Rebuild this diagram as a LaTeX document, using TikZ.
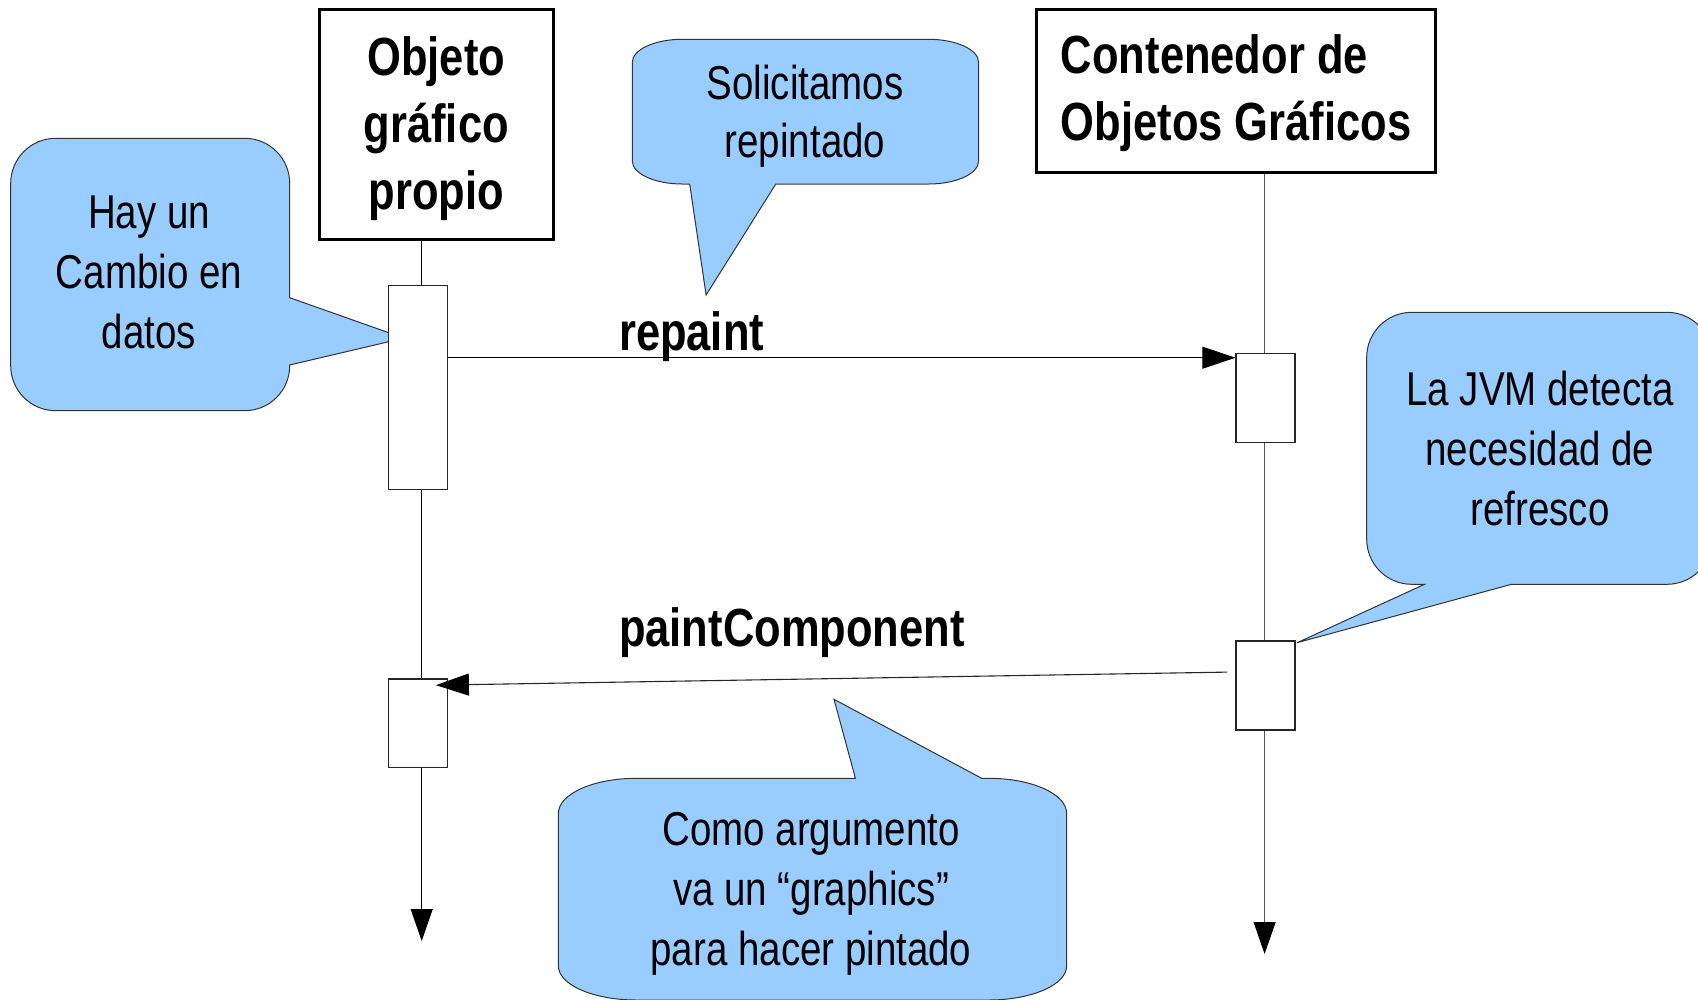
\documentclass[tikz,border=0pt]{standalone}
\usepackage{fontspec}
\setmainfont{Liberation Sans}[FakeStretch=0.81]
\usetikzlibrary{arrows.meta}
\definecolor{callout}{HTML}{99CCFF}

\begin{document}
\begin{tikzpicture}[x=1pt,y=-1pt,
  objbox/.style={draw,line width=3pt,inner sep=0pt,font=\bfseries\fontsize{53.7}{67}\selectfont},
  actbox/.style={draw=black!85,line width=1.2pt,fill=white,inner sep=0pt,minimum width=59pt},
  lifeline/.style={line width=1.1pt,-{Triangle[length=32pt,width=22pt,color=black]}},
  msg/.style={line width=1.1pt,-{Triangle[length=33pt,width=22pt,color=black]}},
  bubble/.style={draw=black!80,line width=1pt,fill=callout},
  notetext/.style={inner sep=0pt,align=center,anchor=north,font=\fontsize{47.5}{60}\selectfont},
  msglabel/.style={inner sep=0pt,anchor=base west,font=\bfseries\fontsize{53.7}{66}\selectfont}]

\useasboundingbox (0,0) rectangle (1698,999);


% Part A: Objects


\node[objbox,minimum width=233.4pt,minimum height=230pt,align=center] (objeto) at (436.3,124.3)
  {\rule{0pt}{46.7pt}Objeto\\gráfico\\propio};
\node[objbox,minimum width=398.8pt,minimum height=163pt,align=left] (contenedor) at (1236.2,90.8)
  {\rule{0pt}{43.3pt}Contenedor de\\Objetos Gráficos};


% Part B: Lifelines


\coordinate (end1) at (421.7,941);
\coordinate (end2) at (1264.6,954);
\draw[lifeline] (objeto.south -| end1) -- (end1);
\draw[lifeline,draw=black!65] (contenedor.south -| end2) -- (end2);


% Part C: Callouts


% Hay un cambio
\draw[bubble] (289.7,297.7) -- (388.8,332.7) -- (388.8,341.7) -- (289.7,365) -- (289.7,365.7)
  arc[start angle=0,end angle=90,radius=45] -- (55.7,410.7)
  arc[start angle=90,end angle=180,radius=45] -- (10.7,183.3)
  arc[start angle=180,end angle=270,radius=45] -- (244.7,138.3)
  arc[start angle=270,end angle=360,radius=45] -- cycle;
\node[notetext] (cambio) at (149,195.8) {Hay un\\Cambio en\\datos};

% Solicitamos
\draw[bubble] (775.8,184) -- (928.6,184)
  arc[start angle=90,end angle=0,x radius=50,y radius=23] -- (978.6,62.3)
  arc[start angle=0,end angle=-90,x radius=50,y radius=23] -- (682.3,39.3)
  arc[start angle=270,end angle=180,x radius=50,y radius=23] -- (632.3,161)
  arc[start angle=180,end angle=90,x radius=50,y radius=23] -- (689.7,184) -- (706.1,295) -- cycle;
\node[notetext,font=\fontsize{47.5}{58.5}\selectfont] (solicitud) at (805,64.8) {Solicitamos\\repintado};

% JVM
\draw[bubble] (1511.4,584.3) -- (1667,584.3)
  arc[start angle=90,end angle=0,radius=45] -- (1712,357.3)
  arc[start angle=0,end angle=-90,radius=45] -- (1411.7,312.3)
  arc[start angle=270,end angle=180,radius=45] -- (1366.7,539.3)
  arc[start angle=180,end angle=90,radius=45] -- (1424.5,584.3) -- (1297.1,642.7) -- cycle;
\node[notetext] (jvm) at (1540,370.8) {La JVM detecta\\necesidad de\\refresco};

% Graphics
\draw[bubble] (855.4,778.3) -- (834,699.3) -- (981.7,778.3) -- (988.6,778.3)
  arc[start angle=-90,end angle=0,x radius=78,y radius=35] -- (1066.6,966)
  arc[start angle=0,end angle=90,x radius=78,y radius=34] -- (636.4,1000)
  arc[start angle=90,end angle=180,x radius=78,y radius=34] -- (558.4,813.3)
  arc[start angle=180,end angle=270,x radius=78,y radius=35] -- cycle;
\node[notetext] (argumento) at (811,812.3) {Como argumento\\va un “graphics”\\para hacer pintado};


% Part D: Activations


\node[actbox,minimum height=203.6pt] (act1a) at (418.1,387.5) {};
\node[actbox,minimum height=89.4pt] (act2a) at (1265.5,398) {};
\node[actbox,minimum height=89pt] (act2b) at (1265.5,685.5) {};
\node[actbox,minimum height=88.3pt] (act1b) at (418.1,723.2) {};


% Part E: Messages


\coordinate (rp) at ([yshift=-5pt]act2a.north west);
\draw[msg] (act1a.east |- rp) -- (rp);
\node[msglabel] (repaint) at (618.9,350) {repaint};

\coordinate (pcstart) at ([xshift=-8pt,yshift=-31.7pt]act2b.north west);
\coordinate (pcend) at ([xshift=-12.3pt,yshift=-6.7pt]act1b.north east);
\draw[msg,draw=black!85] (pcstart) -- (pcend);
\node[msglabel] (paint) at (618.9,646.7) {paintComponent};

\end{tikzpicture}
\end{document}
